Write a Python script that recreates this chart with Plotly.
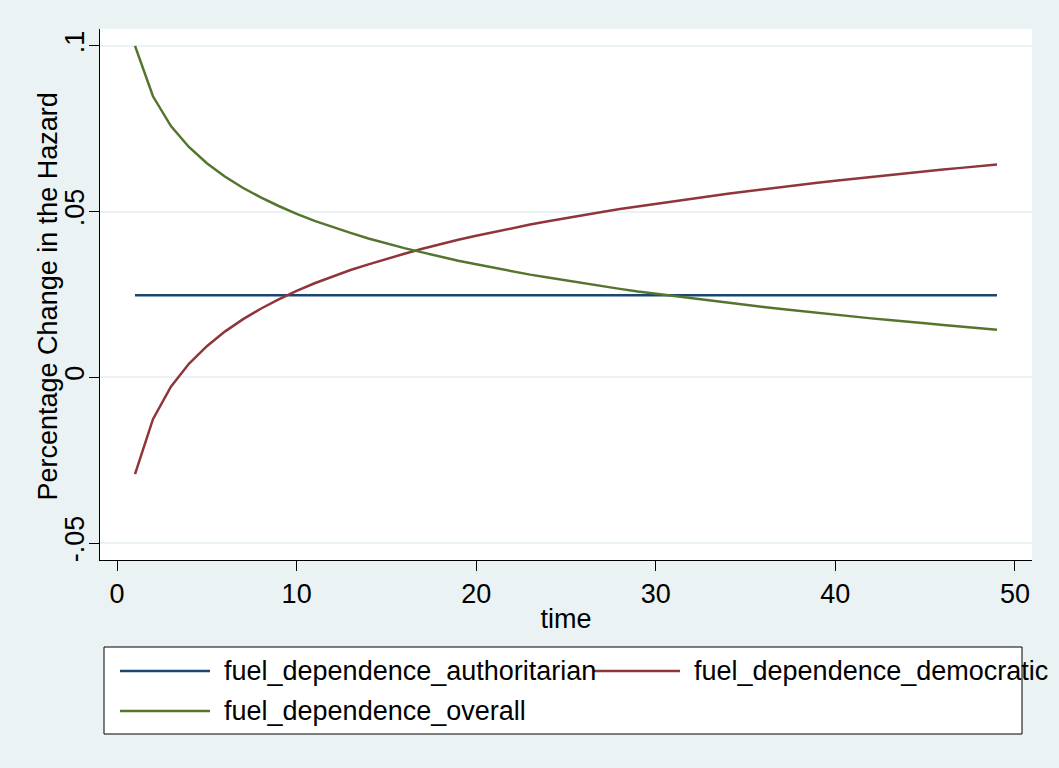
import plotly.graph_objects as go

# ---- data ----
time = list(range(1, 50))

authoritarian = [0.0248] * 49

democratic = [-0.0292, -0.0126, -0.0028, 0.0041, 0.0094, 0.0138, 0.0175, 0.0207, 0.0235, 0.0261,
              0.0284, 0.0304, 0.0324, 0.0341, 0.0358, 0.0373, 0.0388, 0.0402, 0.0415, 0.0427,
              0.0439, 0.0450, 0.0461, 0.0471, 0.0481, 0.0490, 0.0499, 0.0508, 0.0516, 0.0524,
              0.0532, 0.0540, 0.0547, 0.0554, 0.0561, 0.0568, 0.0575, 0.0581, 0.0587, 0.0593,
              0.0599, 0.0605, 0.0611, 0.0616, 0.0622, 0.0627, 0.0632, 0.0637, 0.0642]

overall = [0.1000, 0.0848, 0.0758, 0.0695, 0.0646, 0.0606, 0.0572, 0.0543, 0.0517, 0.0493,
           0.0472, 0.0453, 0.0436, 0.0419, 0.0404, 0.0390, 0.0377, 0.0364, 0.0352, 0.0341,
           0.0330, 0.0320, 0.0310, 0.0301, 0.0292, 0.0283, 0.0275, 0.0267, 0.0259, 0.0252,
           0.0245, 0.0238, 0.0231, 0.0224, 0.0218, 0.0212, 0.0206, 0.0200, 0.0194, 0.0188,
           0.0183, 0.0178, 0.0173, 0.0167, 0.0163, 0.0158, 0.0153, 0.0148, 0.0144]

series_names = ["fuel_dependence_authoritarian", "fuel_dependence_democratic", "fuel_dependence_overall"]
series_values = [authoritarian, democratic, overall]
series_colors = ["#1A476F", "#90353B", "#55752F"]

y_tick_vals = [-0.05, 0, 0.05, 0.1]
y_tick_text = ["-.05", "0", ".05", ".1"]
x_tick_vals = [0, 10, 20, 30, 40, 50]
y_title = "Percentage Change in the Hazard"
x_title = "time"

FONT = "Arial, Liberation Sans, sans-serif"
FS = 27
BG = "#EAF2F3"

fig = go.Figure()
for name, vals, col in zip(series_names, series_values, series_colors):
    fig.add_trace(go.Scatter(x=time, y=vals, mode="lines", name=name,
                             line=dict(color=col, width=2.5), showlegend=False))

# ---- manual Stata-style legend (paper coords) ----
W, H = 1059, 768
L, R, T, B = 100, 27, 29, 208
pw, ph = W - L - R, H - T - B


def px_x(p):
    return (p - L) / pw


def px_y(p):
    return (H - B - p) / ph


shapes = [dict(type="rect", xref="paper", yref="paper",
               x0=px_x(104), x1=px_x(1022), y0=px_y(734), y1=px_y(647),
               line=dict(color="black", width=1), fillcolor="white", layer="below")]
annotations = []
slots = [(120, 210, 222, 671), (593, 680, 692, 671), (120, 210, 222, 711)]
for (lx0, lx1, tx, ly), name, col in zip(slots, series_names, series_colors):
    shapes.append(dict(type="line", xref="paper", yref="paper",
                       x0=px_x(lx0), x1=px_x(lx1), y0=px_y(ly), y1=px_y(ly),
                       line=dict(color=col, width=2.5)))
    annotations.append(dict(xref="paper", yref="paper", x=px_x(tx), y=px_y(ly),
                            text=name, showarrow=False, xanchor="left", yanchor="middle",
                            font=dict(family=FONT, size=FS, color="black")))

# y-axis title placed like Stata's
annotations.append(dict(xref="paper", yref="paper", x=px_x(47), y=px_y(296.5),
                        text=y_title, textangle=-90, showarrow=False,
                        xanchor="center", yanchor="middle",
                        font=dict(family=FONT, size=FS, color="black")))

fig.update_layout(
    width=W, height=H,
    margin=dict(l=L, r=R, t=T, b=B),
    paper_bgcolor=BG, plot_bgcolor="white",
    font=dict(family=FONT, size=FS, color="black"),
    shapes=shapes, annotations=annotations,
    showlegend=False,
)
fig.update_xaxes(range=[-0.95, 50.95], tickvals=x_tick_vals, showgrid=False, zeroline=False,
                 showline=True, linecolor="black", linewidth=1, ticks="outside", ticklen=10,
                 tickcolor="black", tickfont=dict(size=FS),
                 title=dict(text=x_title, font=dict(size=FS), standoff=0), automargin=False)
fig.update_yaxes(range=[-0.0551, 0.1051], tickvals=y_tick_vals, ticktext=y_tick_text, tickangle=-90,
                 showgrid=True, gridcolor=BG, gridwidth=2, zeroline=False,
                 showline=True, linecolor="black", linewidth=1, ticks="outside", ticklen=10,
                 tickcolor="black", tickfont=dict(size=FS), ticklabelstandoff=-6,
                 automargin=False)

fig.write_html("out.html", config={"displayModeBar": False},
               post_script="document.body.style.margin='0';")
